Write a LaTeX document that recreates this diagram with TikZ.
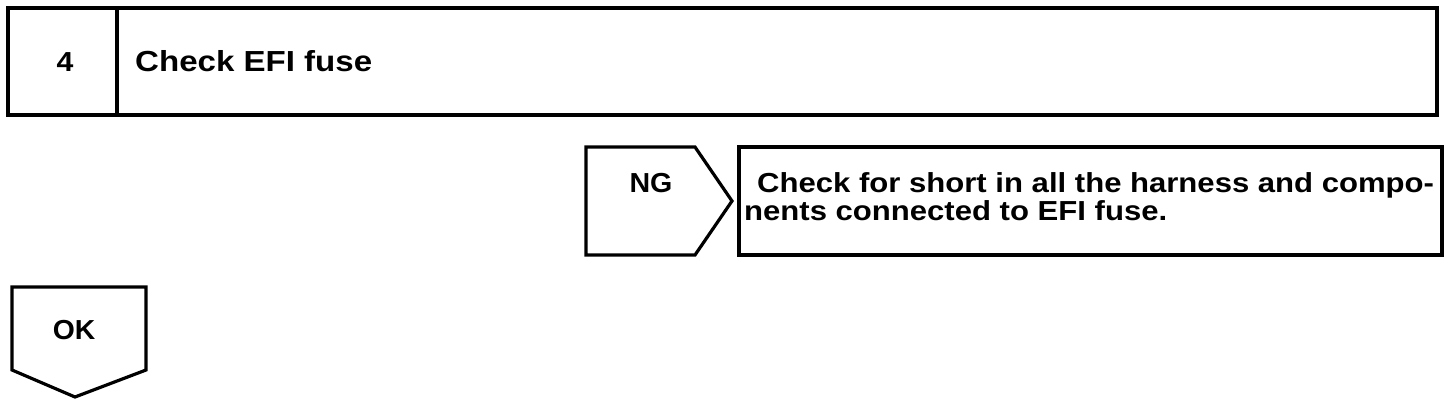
\documentclass[tikz,border=0pt]{standalone}
\usepackage{fontspec}
\setmainfont{Liberation Sans}
\begin{document}
\begin{tikzpicture}[x=1pt,y=-1pt,
  frame/.style={draw=black,line width=3.2pt,line join=miter},
  lbl/.style={inner sep=0pt,font=\bfseries\fontsize{27.5}{28}\selectfont}]
\useasboundingbox (0,0) rectangle (1456,404);
% top box
\draw[frame] (8,8) rectangle (1437,115);
\draw[frame] (117,8) -- (117,115);
\node[lbl,anchor=base] (num) at (65,71) {\scalebox{1.1}[1]{4}};
\node[lbl,anchor=base west,font=\bfseries\fontsize{29}{30}\selectfont] (title) at (135,71) {\scalebox{1.14}[1]{Check EFI fuse}};
% NG pentagon
\draw[frame] (586,147) -- (695,147) -- (732,201) -- (695,255) -- (586,255) -- cycle;
\node[lbl,anchor=base] (ng) at (651,192) {\scalebox{1.04}[1]{NG}};
% right box
\draw[frame] (739,147) rectangle (1442,255);
\node[lbl,anchor=base west] (r1) at (757,192) {\scalebox{1.13}[1]{Check for short in all the harness and compo-}};
\node[lbl,anchor=base west] (r2) at (744,220) {\scalebox{1.13}[1]{nents connected to EFI fuse.}};
% OK
\draw[frame] (12,287) -- (146,287) -- (146,370) -- (75,397) -- (12,370) -- cycle;
\node[lbl,anchor=base] (ok) at (74,339) {\scalebox{1.03}[1]{OK}};
\end{tikzpicture}
\end{document}
